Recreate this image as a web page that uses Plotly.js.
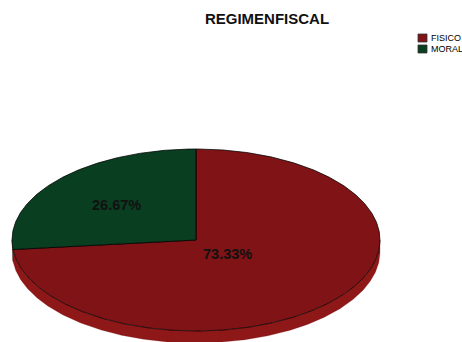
<!DOCTYPE html>
<html>
<head>
<meta charset="utf-8">
<script src="https://cdn.plot.ly/plotly-3.0.1.min.js"></script>
<style>html,body{margin:0;padding:0;background:#fff;}#chart{width:462px;height:342px;}</style>
</head>
<body>
<div id="chart"></div>
<script>
// ---- data ----
const chartTitle = 'REGIMENFISCAL';
const categories = ['FISICO', 'MORAL'];
const percents = [73.33, 26.67];
const labels = ['73.33%', '26.67%'];

// ---- style ----
const topColors = ['#7f1315', '#0a3e21'];
const rimColors = ['#8e1717', '#0e4a27'];
const labelRadius = [0.23, 0.58];
const cx = 196, cy = 240, ra = 184, rb = 91, depth = 12;
const startAngle = 90;

function pt(deg, r, dy) {
  const t = deg * Math.PI / 180;
  return [cx + ra * r * Math.cos(t), cy - rb * r * Math.sin(t) + (dy || 0)];
}

const rimTraces = [], topTraces = [], annotations = [];
let a0 = startAngle;
percents.forEach((p, i) => {
  const span = p * 3.6;
  const a1 = a0 - span;
  const n = Math.max(8, Math.ceil(span * 2));
  const xs = [cx], ys = [cy];
  const rimTop = [];
  for (let k = 0; k <= n; k++) {
    const a = a0 - span * k / n;
    const [x, y] = pt(a, 1);
    xs.push(x); ys.push(y);
    if (Math.sin(a * Math.PI / 180) <= 0.0001) rimTop.push(a);
  }
  xs.push(cx); ys.push(cy);
  if (rimTop.length > 1) {
    const rx = [], ry = [];
    rimTop.forEach(a => { const [x, y] = pt(a, 1); rx.push(x); ry.push(y); });
    rimTop.slice().reverse().forEach(a => { const [x, y] = pt(a, 1, depth); rx.push(x); ry.push(y); });
    rx.push(rx[0]); ry.push(ry[0]);
    rimTraces.push({
      type: 'scatter', mode: 'lines', x: rx, y: ry, fill: 'toself',
      fillcolor: rimColors[i], line: {color: 'rgba(120,20,20,0.5)', width: 0.5},
      hoverinfo: 'skip', showlegend: false
    });
  }
  topTraces.push({
    type: 'scatter', mode: 'lines', x: xs, y: ys, fill: 'toself', name: categories[i],
    fillcolor: topColors[i], line: {color: 'rgba(0,0,0,0.75)', width: 1},
    hoverinfo: 'name', showlegend: false
  });
  const mid = (a0 + a1) / 2;
  const [lx, ly] = pt(mid, labelRadius[i]);
  annotations.push({
    xref: 'x', yref: 'y', x: lx, y: ly, text: '<b>' + labels[i] + '</b>', showarrow: false,
    font: {family: 'Liberation Sans, Arial, sans-serif', size: 14.5, color: '#111'}
  });
  a0 = a1;
});

// custom legend
const shapes = [];
categories.forEach((c, i) => {
  const y0 = 34 + i * 11;
  shapes.push({type: 'rect', xref: 'x', yref: 'y', x0: 418, x1: 427, y0: y0, y1: y0 + 8,
    fillcolor: topColors[i], line: {color: '#333', width: 0.8}});
  annotations.push({xref: 'x', yref: 'y', x: 429, y: y0 + 4, xanchor: 'left', yanchor: 'middle',
    text: c, showarrow: false,
    font: {family: 'Liberation Sans, Arial, sans-serif', size: 9, color: '#000'}});
});

const layout = {
  width: 462, height: 342,
  margin: {l: 0, r: 0, t: 0, b: 0},
  paper_bgcolor: '#fff', plot_bgcolor: '#fff',
  title: {text: '<b>' + chartTitle + '</b>', x: 267 / 462, xanchor: 'center', y: 1 - 19 / 342, yanchor: 'middle',
    font: {family: 'Liberation Sans, Arial, sans-serif', size: 15, color: '#111'}},
  xaxis: {range: [0, 462], visible: false, fixedrange: true},
  yaxis: {range: [342, 0], visible: false, fixedrange: true},
  showlegend: false,
  annotations: annotations,
  shapes: shapes
};

Plotly.newPlot('chart', rimTraces.concat(topTraces), layout, {displayModeBar: false, staticPlot: true});
</script>
</body>
</html>
